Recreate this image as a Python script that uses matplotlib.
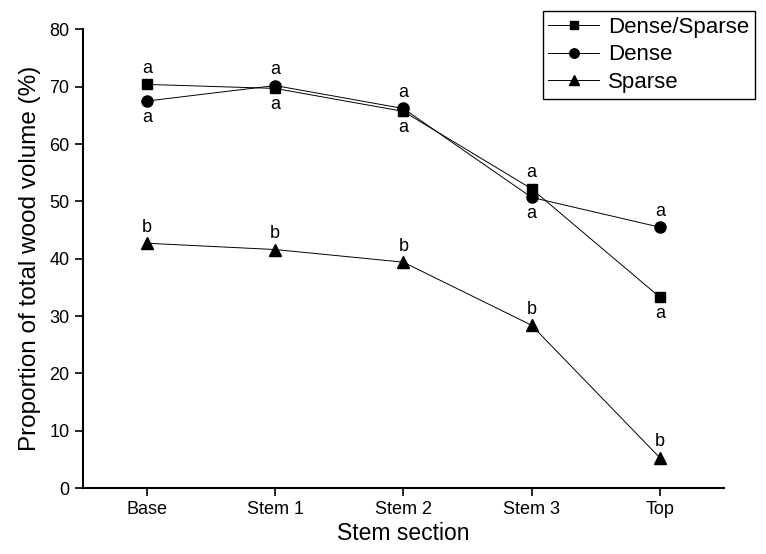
import numpy as np
import matplotlib.pyplot as plt

plt.rcParams['font.family'] = ['Liberation Sans', 'DejaVu Sans']

sections = ['Base', 'Stem 1', 'Stem 2', 'Stem 3', 'Top']
dense_sparse = [70.4, 69.7, 65.7, 52.2, 33.3]
dense = [67.5, 70.2, 66.2, 50.7, 45.5]
sparse = [42.7, 41.6, 39.4, 28.4, 5.3]

# significance letters and whether they sit above (+1) or below (-1) the mark
ds_letters = ['a', 'a', 'a', 'a', 'a']
ds_side = [1, -1, -1, 1, -1]
d_letters = ['a', 'a', 'a', 'a', 'a']
d_side = [-1, 1, 1, -1, 1]
s_letters = ['b', 'b', 'b', 'b', 'b']
s_side = [1, 1, 1, 1, 1]

fig = plt.figure(figsize=(7.66, 5.54), dpi=100)
ax = fig.add_axes([0.108, 0.119, 0.837, 0.828])
x = np.arange(len(sections))

line_kw = dict(color='black', lw=0.7)
h1, = ax.plot(x, dense_sparse, marker='s', ms=7, label='Dense/Sparse', **line_kw)
h2, = ax.plot(x, dense, marker='o', ms=8, label='Dense', **line_kw)
h3, = ax.plot(x, sparse, marker='^', ms=9, label='Sparse', **line_kw)

for vals, letters, side in [(dense_sparse, ds_letters, ds_side),
                            (dense, d_letters, d_side),
                            (sparse, s_letters, s_side)]:
    for xi, v, t, s in zip(x, vals, letters, side):
        ax.annotate(t, (xi, v), xytext=(0, 11.5 * s), textcoords='offset points',
                    ha='center', va='center', fontsize=13)

ax.set_xlim(-0.5, 4.5)
ax.set_ylim(0, 80)
ax.set_xticks(x)
ax.set_xticklabels(sections)
ax.set_yticks(range(0, 81, 10))
ax.spines['top'].set_visible(False)
ax.spines['right'].set_visible(False)
ax.spines['left'].set_linewidth(1.5)
ax.spines['bottom'].set_linewidth(1.5)
ax.tick_params(axis='both', length=6, width=1.2, labelsize=13)
ax.set_xlabel('Stem section', fontsize=16.5, labelpad=3)
ax.set_ylabel('Proportion of total wood volume (%)', fontsize=17.5, labelpad=6)

fig.legend(handles=[h1, h2, h3], loc='upper right', bbox_to_anchor=(1.0, 1.0),
           fontsize=16, frameon=True, fancybox=False, edgecolor='black',
           framealpha=1, handlelength=2.3, borderpad=0.25, labelspacing=0.3,
           handletextpad=0.4, markerscale=0.85)

fig.savefig('out.png', dpi=100)
